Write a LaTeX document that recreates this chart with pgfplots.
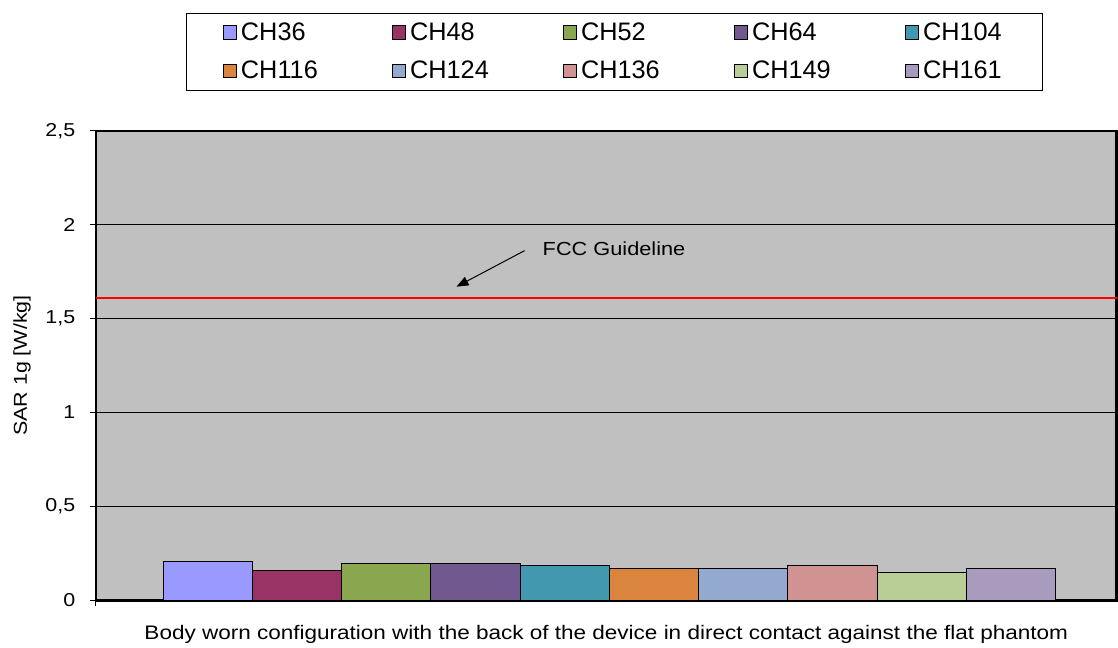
\documentclass[border=0pt]{standalone}
\usepackage{pgfplots}
\pgfplotsset{compat=1.18}
\usepackage{fontspec}
\setmainfont{Liberation Sans}[FakeStretch=1.15]
\newfontfamily\lgfont{Liberation Sans}
\usetikzlibrary{arrows.meta}

\definecolor{plotgray}{HTML}{C0C0C0}
\definecolor{c36}{HTML}{9999FF}
\definecolor{c48}{HTML}{993366}
\definecolor{c52}{HTML}{8AA64F}
\definecolor{c64}{HTML}{71588F}
\definecolor{c104}{HTML}{4198AF}
\definecolor{c116}{HTML}{DB843D}
\definecolor{c124}{HTML}{93A9CF}
\definecolor{c136}{HTML}{D19392}
\definecolor{c149}{HTML}{B9CD96}
\definecolor{c161}{HTML}{A99BBD}

\begin{document}
\begin{tikzpicture}
\begin{axis}[
    scale only axis,
    width=766.5pt,
    height=352.5pt,
    clip=false,
    axis background/.style={fill=plotgray},
    every outer x axis line/.append style={line width=2pt},
    every outer y axis line/.append style={line width=2pt},
    axis line style={line width=2pt},
    ybar=0pt,
    bar width=67pt,
    xmin=-1.006, xmax=0.994,
    ymin=0, ymax=2.5,
    xtick={-1.006},
    xticklabels={},
    ytick={0,0.5,1,1.5,2,2.5},
    xtick pos=bottom,
    ytick pos=left,
    tick align=outside,
    major tick length=4.5pt,
    tick style={line width=0.75pt, black},
    ymajorgrids,
    grid style={line width=0.9pt, black},
    /pgf/number format/use comma,
    /pgf/number format/assume math mode=true,
    yticklabel style={font=\fontsize{14pt}{16pt}\selectfont, xshift=-7.5pt},
    every axis y label/.style={at={(rel axis cs:0,0.5)}, rotate=90, anchor=center,
        yshift=55.5pt, font=\fontsize{14pt}{16pt}\selectfont},
    every axis x label/.style={at={(rel axis cs:0.5,0)}, anchor=center,
        yshift=-25.5pt, font=\fontsize{14.7pt}{16pt}\selectfont},
    ylabel={SAR 1g [W/kg]},
    xlabel={Body worn configuration with the back of the device in direct contact against the flat phantom},
    legend image code/.code={\draw[#1, draw=black, line width=0.75pt] (0pt,-5pt) rectangle (10pt,5pt);},
    legend columns=5,
    legend style={
        at={(0.5078,1.085)}, anchor=south,
        draw=black, line width=0.75pt, fill=white,
        font=\lgfont\fontsize{19pt}{21pt}\selectfont,
        inner xsep=27.4pt, inner ysep=5.5pt,
        row sep=10.6pt,
        cells={anchor=west},
        nodes={inner xsep=3pt, inner ysep=1.75pt},
        /tikz/every even column/.append style={column sep=52.5pt},
    },
]
\addplot[fill=c36,  draw=black, line width=0.75pt, bar shift=-301.5pt] coordinates {(0,0.209)};
\addplot[fill=c48,  draw=black, line width=0.75pt, bar shift=-234.5pt] coordinates {(0,0.161)};
\addplot[fill=c52,  draw=black, line width=0.75pt, bar shift=-167.5pt] coordinates {(0,0.195)};
\addplot[fill=c64,  draw=black, line width=0.75pt, bar shift=-100.5pt] coordinates {(0,0.195)};
\addplot[fill=c104, draw=black, line width=0.75pt, bar shift=-33.5pt]  coordinates {(0,0.186)};
\addplot[fill=c116, draw=black, line width=0.75pt, bar shift=33.5pt]   coordinates {(0,0.169)};
\addplot[fill=c124, draw=black, line width=0.75pt, bar shift=100.5pt]  coordinates {(0,0.169)};
\addplot[fill=c136, draw=black, line width=0.75pt, bar shift=167.5pt]  coordinates {(0,0.186)};
\addplot[fill=c149, draw=black, line width=0.75pt, bar shift=234.5pt]  coordinates {(0,0.147)};
\addplot[fill=c161, draw=black, line width=0.75pt, bar shift=301.5pt]  coordinates {(0,0.169)};
\legend{CH36,CH48,CH52,CH64,CH104,CH116,CH124,CH136,CH149,CH161}

% FCC limit
\addplot[red, line width=1.5pt, sharp plot, mark=none, forget plot] coordinates {(-1.006,1.61) (0.994,1.61)};

\node[anchor=west, inner xsep=0pt, font=\fontsize{14.2pt}{16pt}\selectfont] at (axis cs:-0.131,1.872) {FCC Guideline};
\draw[line width=0.75pt, -{Triangle[length=9pt,width=7pt]}] (axis cs:-0.166,1.862) -- (axis cs:-0.2995,1.670);

\path (rel axis cs:0,0) ++(-72pt,-33pt);
\path (rel axis cs:1,1) ++(0pt,98.25pt);
\end{axis}
\end{tikzpicture}
\end{document}
